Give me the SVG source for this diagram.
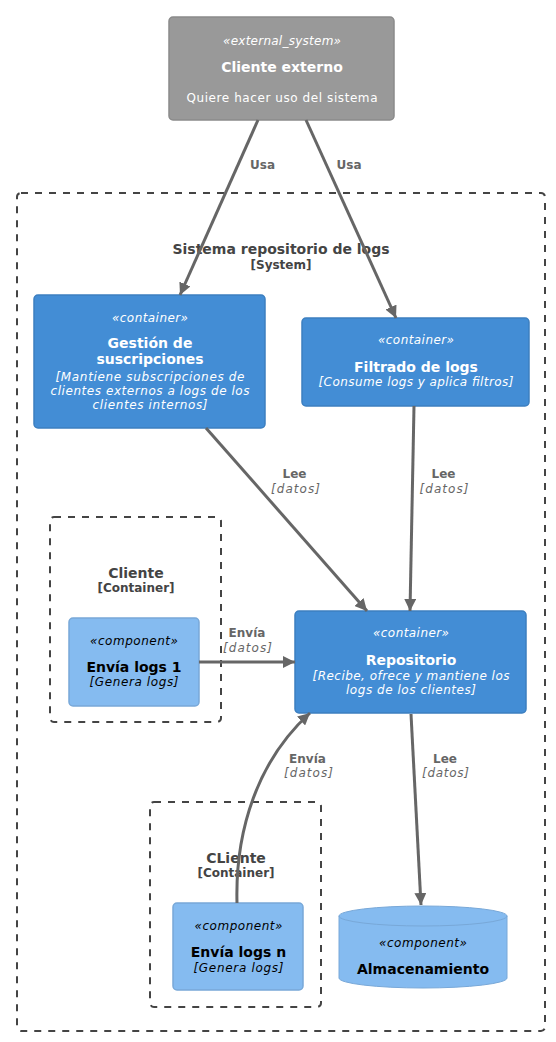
<svg xmlns="http://www.w3.org/2000/svg" width="556" height="1042" viewBox="0 0 556 1042">
<defs>
<style>
text{font-family:"DejaVu Sans","Liberation Sans",sans-serif;text-anchor:middle}
.st{font-size:12px;font-style:italic}
.tt{font-size:14px;font-weight:bold}
.ds{font-size:12px;font-style:italic}
.w{fill:#FFFFFF}
.k{fill:#000000}
.bt{font-size:14px;font-weight:bold;fill:#444444}
.bs{font-size:12px;font-weight:bold;fill:#444444}
.bd{fill:none;stroke:#444444;stroke-width:2;stroke-dasharray:7,7}
.cont{fill:#438DD5;stroke:#3C7FC0;stroke-width:1.5}
.comp{fill:#85BBF0;stroke:#78A8D8;stroke-width:1.5}
.ln{fill:none;stroke:#666666;stroke-width:3}
.ll{font-size:12px;font-weight:bold;fill:#666666}
.li{font-size:12px;font-style:italic;fill:#666666}
</style>
<marker id="ah" viewBox="0 0 10 10" refX="10" refY="5" markerWidth="4" markerHeight="4" orient="auto" markerUnits="strokeWidth">
<path d="M0,0 L10,5 L0,10 z" fill="#666666"/>
</marker>
</defs>
<rect width="556" height="1042" fill="#FFFFFF"/>

<g id="system-boundary">
<rect class="bd" x="17" y="193" width="528" height="838" rx="4"/>
<text class="bt" x="281" y="254">Sistema repositorio de logs</text>
<text class="bs" x="281" y="269">[System]</text>
</g>

<g id="cliente-boundary">
<rect class="bd" x="50" y="517" width="171" height="205" rx="4"/>
<text class="bt" x="136" y="578">Cliente</text>
<text class="bs" x="136" y="592">[Container]</text>
</g>

<g id="cliente-n-boundary">
<rect class="bd" x="150" y="802" width="171" height="205" rx="4"/>
<text class="bt" x="236" y="863">CLiente</text>
<text class="bs" x="236" y="877">[Container]</text>
</g>

<g id="cliente-externo">
<rect x="169" y="17" width="225" height="103" rx="4" fill="#999999" stroke="#8A8A8A" stroke-width="1.5"/>
<text class="st w" x="282" y="45" textLength="118">«external_system»</text>
<text class="tt w" x="282" y="72">Cliente externo</text>
<text class="w" x="282" y="102" font-size="12" textLength="191">Quiere hacer uso del sistema</text>
</g>

<g id="gestion">
<rect class="cont" x="34" y="295" width="231" height="133" rx="4"/>
<text class="st w" x="150" y="322" textLength="76">«container»</text>
<text class="tt w" x="150" y="348">Gestión de</text>
<text class="tt w" x="150" y="364">suscripciones</text>
<text class="ds w" x="150" y="381" textLength="189">[Mantiene subscripciones de</text>
<text class="ds w" x="150" y="395" textLength="199">clientes externos a logs de los</text>
<text class="ds w" x="150" y="409" textLength="115">clientes internos]</text>
</g>

<g id="filtrado">
<rect class="cont" x="302" y="318" width="227" height="88" rx="4"/>
<text class="st w" x="416" y="344" textLength="76">«container»</text>
<text class="tt w" x="416" y="372">Filtrado de logs</text>
<text class="ds w" x="416" y="386" textLength="195">[Consume logs y aplica filtros]</text>
</g>

<g id="repositorio">
<rect class="cont" x="295" y="611" width="231" height="102" rx="4"/>
<text class="st w" x="411" y="637" textLength="76">«container»</text>
<text class="tt w" x="411" y="665">Repositorio</text>
<text class="ds w" x="411" y="680" textLength="197">[Recibe, ofrece y mantiene los</text>
<text class="ds w" x="411" y="694" textLength="130">logs de los clientes]</text>
</g>

<g id="envia-logs-1">
<rect class="comp" x="69" y="618" width="130" height="88" rx="4"/>
<text class="st k" x="134" y="645" textLength="88">«component»</text>
<text class="tt k" x="134" y="672">Envía logs 1</text>
<text class="ds k" x="134" y="686" textLength="89">[Genera logs]</text>
</g>

<g id="envia-logs-n">
<rect class="comp" x="173" y="903" width="130" height="87" rx="4"/>
<text class="st k" x="238.5" y="930" textLength="88">«component»</text>
<text class="tt k" x="238.5" y="957">Envía logs n</text>
<text class="ds k" x="238.5" y="972" textLength="90">[Genera logs]</text>
</g>

<g id="almacenamiento">
<path d="M339,916 A84,10 0 0 1 507,916 L507,978 A84,10 0 0 1 339,978 Z" fill="#85BBF0" stroke="#78A8D8" stroke-width="1"/>
<path d="M339,916 A84,10 0 0 0 507,916" fill="none" stroke="#78A8D8" stroke-width="1"/>
<text class="st k" x="423" y="947" textLength="88">«component»</text>
<text class="tt k" x="423" y="974">Almacenamiento</text>
</g>

<g id="connectors">
<path class="ln" d="M258,120 L180,295" marker-end="url(#ah)"/>
<path class="ln" d="M306,120 L396,318" marker-end="url(#ah)"/>
<path class="ln" d="M206,428 L367,611" marker-end="url(#ah)"/>
<path class="ln" d="M414,406 L410,611" marker-end="url(#ah)"/>
<path class="ln" d="M199,662 L295,662" marker-end="url(#ah)"/>
<path class="ln" d="M237,903 C235,830 258,760 310,713" marker-end="url(#ah)"/>
<path class="ln" d="M411,714 L421,905" marker-end="url(#ah)"/>
<text class="ll" x="262.5" y="169">Usa</text>
<text class="ll" x="349" y="169">Usa</text>
<text class="ll" x="294.5" y="478">Lee</text>
<text class="li" x="295.5" y="493" textLength="49">[datos]</text>
<text class="ll" x="443.5" y="478">Lee</text>
<text class="li" x="444" y="493" textLength="49">[datos]</text>
<text class="ll" x="247" y="637">Envía</text>
<text class="li" x="247.5" y="652" textLength="49">[datos]</text>
<text class="ll" x="307.5" y="763">Envía</text>
<text class="li" x="308.5" y="777" textLength="49">[datos]</text>
<text class="ll" x="445" y="763">Lee</text>
<text class="li" x="445.5" y="777" textLength="47">[datos]</text>
</g>
</svg>
